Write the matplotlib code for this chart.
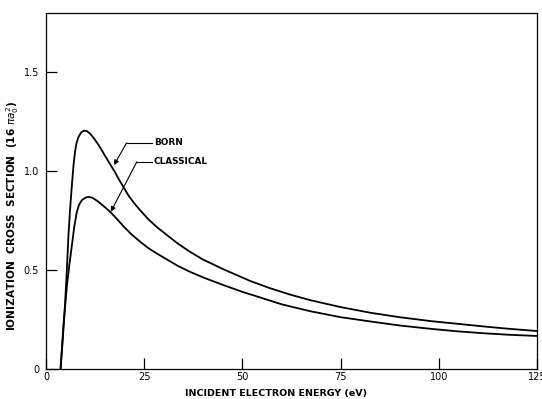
import matplotlib
matplotlib.use("Agg")
import matplotlib.pyplot as plt

# Ionization cross section vs incident electron energy (units of 16 pi a0^2)
born_energy = [3.7, 4.3, 4.85, 5.3, 5.7, 6.1, 6.55, 7.0, 7.4, 7.8, 8.3, 9.0,
               9.7, 10.4, 11.2, 12.1, 13.0, 14.0, 15.0, 16.3, 17.5, 18.5,
               19.7, 21.0, 22.5, 24.0, 26.0, 28.2, 30.6, 33.5, 36.7, 40.0,
               45.2, 52.0, 57.1, 62.0, 67.3, 75.0, 82.7, 90.0, 98.0, 105.0,
               112.0, 118.0, 125.0]
born_sigma = [0.0, 0.16, 0.33, 0.50, 0.67, 0.80, 0.92, 1.03, 1.10, 1.145,
              1.175, 1.197, 1.205, 1.203, 1.19, 1.169, 1.144, 1.113, 1.079,
              1.036, 0.997, 0.961, 0.92, 0.877, 0.837, 0.802, 0.758, 0.718,
              0.68, 0.635, 0.592, 0.553, 0.504, 0.445, 0.408, 0.377, 0.348,
              0.313, 0.284, 0.262, 0.242, 0.228, 0.214, 0.203, 0.192]

classical_energy = [3.7, 4.4, 5.3, 5.9, 6.55, 7.2, 7.8, 8.4, 9.1, 10.0, 10.8,
                    11.8, 12.8, 13.8, 15.0, 16.3, 18.0, 19.7, 21.8, 24.0,
                    26.0, 28.2, 30.6, 33.5, 36.7, 40.0, 45.2, 50.0, 54.0,
                    60.0, 67.3, 75.0, 82.7, 90.0, 98.0, 105.0, 112.0, 118.0,
                    125.0]
classical_sigma = [0.0, 0.21, 0.416, 0.52, 0.62, 0.72, 0.79, 0.83, 0.853,
                   0.866, 0.87, 0.866, 0.853, 0.838, 0.818, 0.795, 0.76,
                   0.722, 0.68, 0.643, 0.612, 0.584, 0.556, 0.522, 0.491,
                   0.463, 0.424, 0.39, 0.365, 0.327, 0.292, 0.262, 0.24,
                   0.22, 0.203, 0.19, 0.18, 0.173, 0.167]

x_ticks = [0, 25, 50, 75, 100, 125]
y_ticks = [0, 0.5, 1.0, 1.5]
y_tick_labels = ["0", "0.5", "1.0", "1.5"]

plt.rcParams["font.family"] = ["DejaVu Sans"]

fig = plt.figure(figsize=(5.42, 3.99), dpi=100)
ax = fig.add_axes([0.0849, 0.0752, 0.9059, 0.8922])

ax.plot(born_energy, born_sigma, color="black", lw=1.3)
ax.plot(classical_energy, classical_sigma, color="black", lw=1.3)

ax.set_xlim(0, 125)
ax.set_ylim(0, 1.8)
ax.set_xticks(x_ticks)
ax.set_xticklabels([str(t) for t in x_ticks])
ax.set_yticks(y_ticks)
ax.set_yticklabels(y_tick_labels)
ax.tick_params(axis="x", direction="in", length=8, width=0.9,
               labelsize=7, pad=2)
ax.tick_params(axis="y", direction="in", length=8, width=0.9,
               labelsize=7, pad=5)
for s in ax.spines.values():
    s.set_linewidth(0.9)

ax.set_xlabel("INCIDENT ELECTRON ENERGY (eV)", fontsize=6.8,
              fontweight="bold")
ax.xaxis.set_label_coords(0.468, -0.055)
ax.set_ylabel(r"IONIZATION  CROSS  SECTION  (16 $\pi a_0^2$)", fontsize=7.6,
              fontweight="bold")
ax.yaxis.set_label_coords(-0.05, 0.43)

# curve labels with leader lines
labels = [("BORN", 20.5, 1.143, 17.3, 1.031),
          ("CLASSICAL", 23.1, 1.047, 16.5, 0.795)]
for text, ex, ey, tx, ty in labels:
    ax.plot([ex, 26.9], [ey, ey], color="black", lw=0.8)
    ax.annotate("", xy=(tx, ty), xytext=(ex, ey),
                arrowprops=dict(arrowstyle="-|>", color="black", lw=0.8,
                                mutation_scale=7, shrinkA=0, shrinkB=0))
    ax.text(27.4, ey, text, fontsize=6.4, fontweight="bold", va="center",
            ha="left")

fig.savefig("out.png", dpi=100)
